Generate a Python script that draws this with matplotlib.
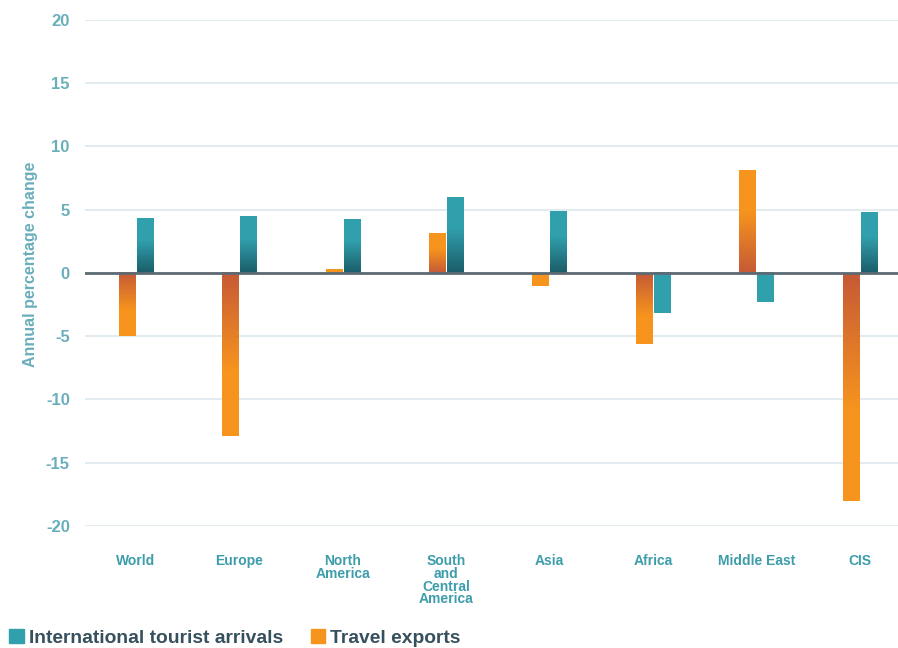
import numpy as np
import matplotlib
matplotlib.use("Agg")
import matplotlib.pyplot as plt
from matplotlib.colors import to_rgb
from matplotlib.patches import Rectangle

regions = ["World", "Europe", "North\nAmerica", "South\nand\nCentral\nAmerica",
           "Asia", "Africa", "Middle East", "CIS"]
arrivals = [4.3, 4.5, 4.2, 6.0, 4.9, -3.2, -2.3, 4.8]
exports = [-5.0, -12.9, 0.3, 3.1, -1.0, -5.6, 8.1, -18.0]

plt.rcParams['font.family'] = ['Liberation Sans', 'DejaVu Sans']
plt.rcParams['axes.unicode_minus'] = False

orange_dark, orange_light = to_rgb("#c55a36"), to_rgb("#f7941e")
teal_dark, teal_light = to_rgb("#1b5c69"), to_rgb("#31a0ad")
tick_col = "#6aaebb"


def grad_bar(ax, x, w, v, dark, light, frac, fade_neg=True):
    if v == 0:
        return
    ys = np.linspace(0, v, 200)
    length = frac * abs(v)
    if abs(v) < 2 or (not fade_neg and v < 0):
        t = np.ones_like(ys)
    else:
        t = np.clip(np.abs(ys) / length, 0, 1)
    d, l = np.array(dark), np.array(light)
    cols = d[None, :] * (1 - t[:, None]) + l[None, :] * t[:, None]
    img = cols[:, None, :]
    lo, hi = min(0, v), max(0, v)
    if v < 0:
        img = img[::-1]
    ax.imshow(img, extent=(x - w / 2, x + w / 2, lo, hi), origin="lower",
              aspect="auto", zorder=3, interpolation="bilinear")


fig = plt.figure(figsize=(8.98, 6.48), dpi=100)
ax = fig.add_axes([0.0947, 0.1883, 0.9053, 0.781])

xs = np.arange(len(regions))
w = 0.16
for i in xs:
    grad_bar(ax, i - 0.085, w, exports[i], orange_dark, orange_light, 0.6)
    grad_bar(ax, i + 0.09, w, arrivals[i], teal_dark, teal_light, 0.6, fade_neg=False)

ax.set_xlim(-0.49, 7.37)
ax.set_ylim(-20, 20)
ax.set_yticks(range(-20, 21, 5))
ax.grid(axis="y", color="#dde9ee", linewidth=1.2, zorder=0)
ax.axhline(0, color="#5e6a73", linewidth=2, zorder=4)
for s in ax.spines.values():
    s.set_visible(False)

ax.set_xticks(xs)
ax.set_xticklabels(regions, fontsize=10, fontweight="bold", color="#3d9dab",
                   linespacing=0.9, va="top")
ax.tick_params(axis="x", length=0, pad=20)
ax.tick_params(axis="y", length=0, pad=11, labelsize=12, labelcolor=tick_col)
for lab in ax.get_yticklabels():
    lab.set_fontweight("bold")
ax.set_ylabel("Annual percentage change", fontsize=11.5, fontweight="bold",
              color=tick_col)
ax.yaxis.set_label_coords(-0.058, 0.518)

handles = [Rectangle((0, 0), 1, 1, color="#31a0ad"), Rectangle((0, 0), 1, 1, color="#f7941e")]
fig.legend(handles, ["International tourist arrivals", "Travel exports"],
           loc="lower left", bbox_to_anchor=(-0.009, -0.025), ncol=2, frameon=False,
           handlelength=0.75, handleheight=0.75, handletextpad=0.25, columnspacing=1.45,
           prop={"size": 13.9, "weight": "bold"}, labelcolor="#37505d")

fig.savefig("out.png", dpi=100)
